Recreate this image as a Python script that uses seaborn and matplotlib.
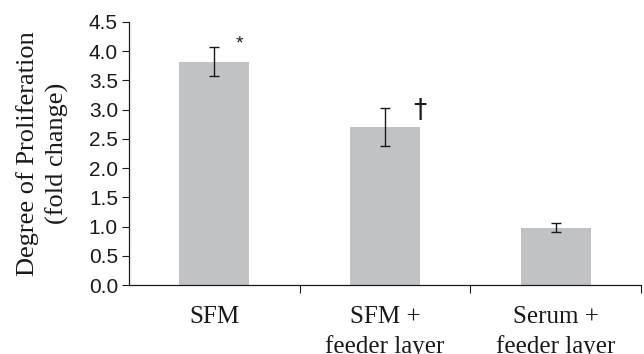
import matplotlib
matplotlib.use("Agg")
import matplotlib.pyplot as plt
import seaborn as sns
import pandas as pd
import numpy as np

categories = ["SFM", "SFM +\nfeeder layer", "Serum +\nfeeder layer"]
values = [3.82, 2.70, 0.98]
errors = [0.245, 0.32, 0.08]
markers = ["*", "\u2020", ""]
yticks = [0.0, 0.5, 1.0, 1.5, 2.0, 2.5, 3.0, 3.5, 4.0, 4.5]

sns.set_theme(style="ticks")
plt.rcParams["font.family"] = ["Liberation Sans", "DejaVu Sans"]

df = pd.DataFrame({"cat": categories, "val": values})

fig = plt.figure(figsize=(6.44, 3.54), dpi=100)
ax = fig.add_axes([0.2003, 0.1949, 0.795, 0.743])

sns.barplot(data=df, x="cat", y="val", color="#c1c2c4", width=0.41,
            saturation=1, ax=ax, errorbar=None, edgecolor="none")
xs = np.arange(len(categories))
ax.errorbar(xs, values, yerr=errors, fmt="none", ecolor="#1a1a1a",
            elinewidth=1.0, capsize=3.3, capthick=1.0)

# significance markers
ax.text(0.15, 4.12, markers[0], ha="center", va="center",
        fontsize=14, color="#1a1a1a", family=["Liberation Sans"])
ax.text(1.205, 2.98, markers[1], ha="center", va="center",
        fontsize=19, color="#1a1a1a", family=["DejaVu Sans"])

ax.set_xlim(-0.5, 2.5)
ax.set_ylim(0, 4.5)
ax.set_yticks(yticks)
ax.set_yticklabels([f"{t:.1f}" for t in yticks], fontsize=15, color="#1a1a1a")
ax.set_xticks(xs)
ax.set_xticklabels(categories, fontsize=18, color="#1a1a1a",
                   family=["Liberation Serif", "DejaVu Serif"], linespacing=1.4)
ax.set_xticks([0.5, 1.5, 2.5], minor=True)
ax.tick_params(axis="x", which="major", length=0, pad=15)
ax.tick_params(axis="x", which="minor", length=6, width=0.8, color="#1a1a1a", direction="out")
ax.tick_params(axis="y", length=5, width=0.8, color="#1a1a1a", direction="out", pad=3)

ax.set_xlabel("")
ax.set_ylabel("Degree of Proliferation\n(fold change)", fontsize=19, color="#1a1a1a",
              family=["Liberation Serif", "DejaVu Serif"], linespacing=1.4, labelpad=14)

sns.despine(ax=ax)
for s in ["left", "bottom"]:
    ax.spines[s].set_linewidth(0.9)
    ax.spines[s].set_color("#1a1a1a")

fig.savefig("out.png", dpi=100)
